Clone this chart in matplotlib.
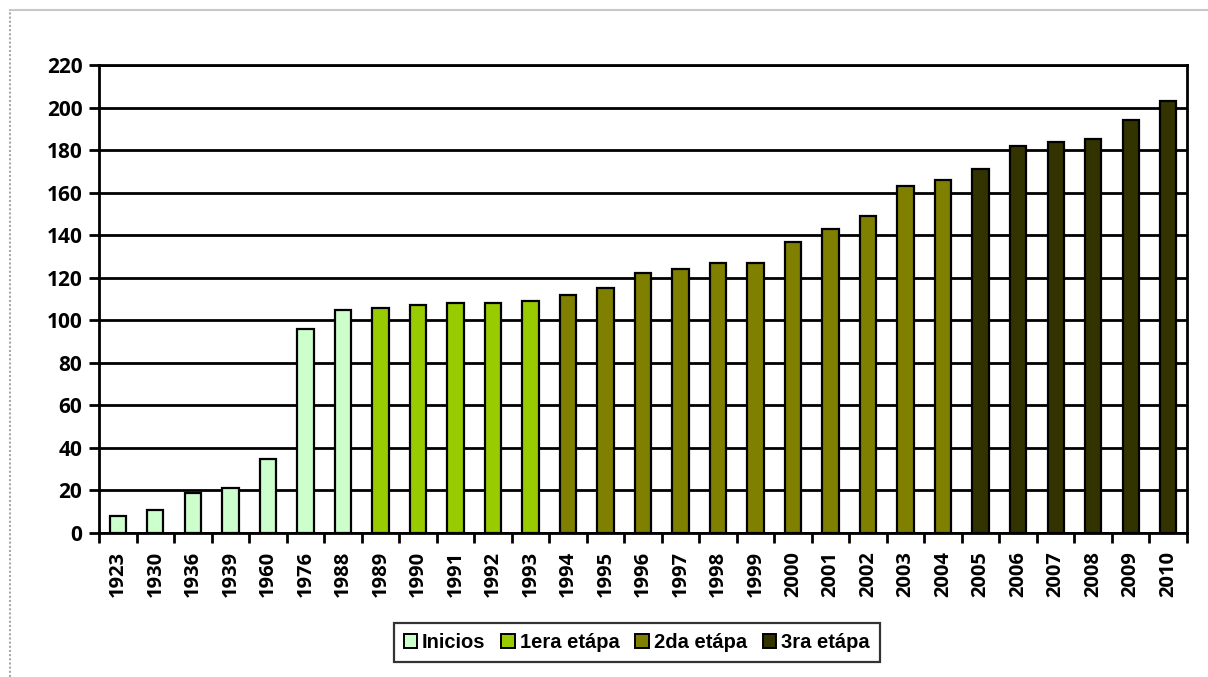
import matplotlib
matplotlib.use("Agg")
import matplotlib.pyplot as plt
from matplotlib.patches import Patch
from matplotlib.lines import Line2D
import numpy as np

years = ["1923", "1930", "1936", "1939", "1960", "1976", "1988",
         "1989", "1990", "1991", "1992", "1993",
         "1994", "1995", "1996", "1997", "1998", "1999", "2000", "2001",
         "2002", "2003", "2004",
         "2005", "2006", "2007", "2008", "2009", "2010"]
values = [8, 11, 19, 21, 35, 96, 105,
          106, 107, 108, 108, 109,
          112, 115, 122, 124, 127, 127, 137, 143, 149, 163, 166,
          171, 182, 184, 185, 194, 203]
stages = ["Inicios"] * 7 + ["1era etápa"] * 5 + ["2da etápa"] * 11 + ["3ra etápa"] * 6

stage_names = ["Inicios", "1era etápa", "2da etápa", "3ra etápa"]
stage_colors = {"Inicios": "#CCFFCC", "1era etápa": "#99CC00",
                "2da etápa": "#808000", "3ra etápa": "#333300"}

tick_font = ["Open Sans", "DejaVu Sans"]
legend_font = ["Liberation Sans", "DejaVu Sans"]

fig = plt.figure(figsize=(12.08, 6.77), dpi=100)
ax = fig.add_axes([0.082, 0.2127, 0.9006, 0.6913])

x = np.arange(len(years))
colors = [stage_colors[s] for s in stages]
ax.bar(x, values, width=0.435, color=colors, edgecolor="black", linewidth=1.6, zorder=3)

ax.set_xlim(-0.5, len(years) - 0.5)
ax.set_ylim(0, 220)
ax.set_yticks(np.arange(0, 221, 20))
ax.grid(axis="y", color="black", linewidth=2, zorder=1)
ax.set_axisbelow(True)

# category ticks sit between bars, labels under each bar
ax.set_xticks(np.arange(-0.5, len(years), 1.0))
ax.set_xticklabels([])
ax.set_xticks(x, minor=True)
ax.set_xticklabels(years, minor=True, rotation=90, fontsize=14.5,
                   fontweight="bold", family=tick_font)
ax.tick_params(axis="x", which="minor", length=0, pad=13)
ax.tick_params(axis="x", which="major", length=7, width=2)
ax.tick_params(axis="y", length=7, width=2, pad=5)
for lab in ax.get_yticklabels():
    lab.set_fontsize(15)
    lab.set_fontweight("bold")
    lab.set_family(tick_font)

for sp in ax.spines.values():
    sp.set_linewidth(2)
    sp.set_color("black")

handles = [Patch(facecolor=stage_colors[s], edgecolor="black", linewidth=1.4)
           for s in stage_names]
leg = fig.legend(handles, stage_names, loc="center", bbox_to_anchor=(0.527, 0.051),
                 ncol=4, frameon=True, fancybox=False, edgecolor="black",
                 prop={"family": legend_font, "weight": "bold", "size": 14.5},
                 handlelength=0.65, handleheight=0.65, handletextpad=0.25,
                 columnspacing=0.8, borderpad=0.5, borderaxespad=0)
leg.get_frame().set_linewidth(1.6)

# outer chart frame
fig.add_artist(Line2D([0.0083, 1.0], [0.985, 0.985], transform=fig.transFigure,
                      color="#c8c8c8", linewidth=1.5))
fig.add_artist(Line2D([0.0083, 0.0083], [0.0, 0.985], transform=fig.transFigure,
                      color="#a8a8a8", linewidth=1.5, linestyle=(0, (1, 1))))

fig.savefig("out.png", dpi=100)
